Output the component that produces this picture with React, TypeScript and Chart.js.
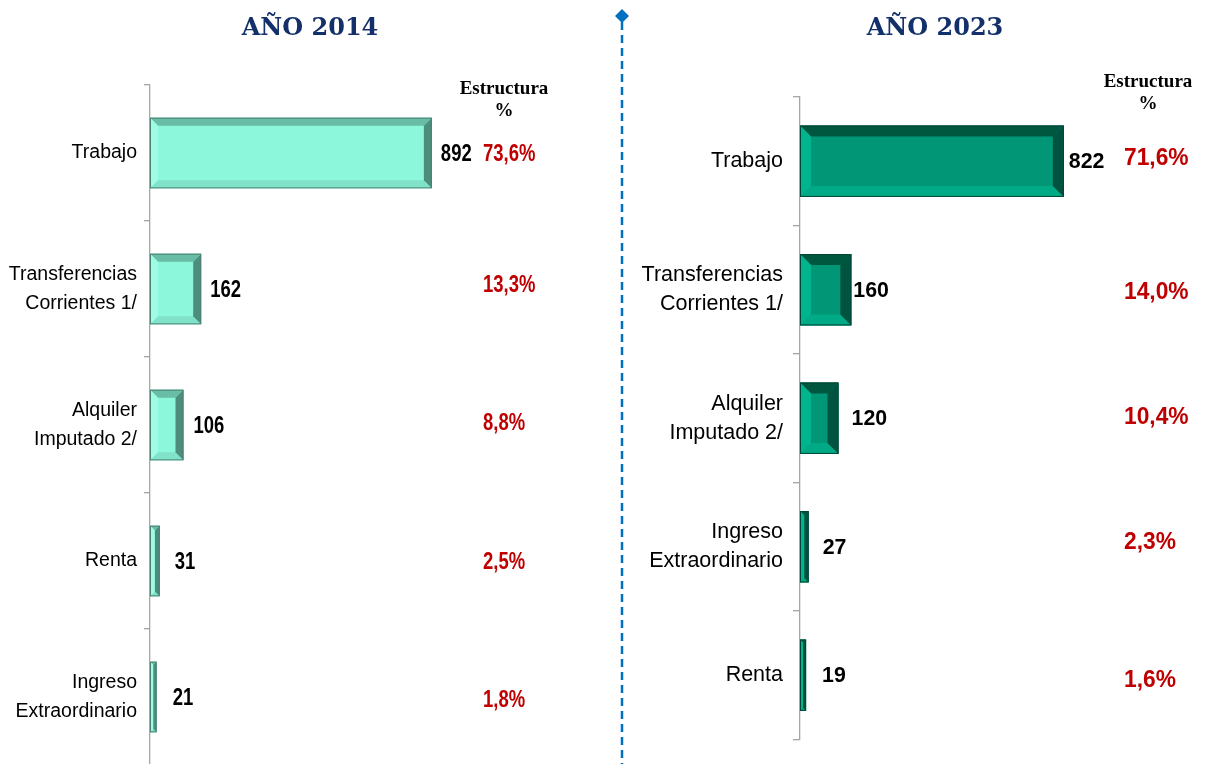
import React, { useEffect, useRef } from "react";
import { Chart, registerables } from "chart.js";

Chart.register(...registerables);

const labels2014: (string | string[])[] = [
  "Trabajo",
  ["Transferencias", "Corrientes 1/"],
  ["Alquiler", "Imputado 2/"],
  "Renta",
  ["Ingreso", "Extraordinario"],
];
const values2014 = [892, 162, 106, 31, 21];
const pct2014 = ["73,6%", "13,3%", "8,8%", "2,5%", "1,8%"];

const labels2023: (string | string[])[] = [
  "Trabajo",
  ["Transferencias", "Corrientes 1/"],
  ["Alquiler", "Imputado 2/"],
  ["Ingreso", "Extraordinario"],
  "Renta",
];
const values2023 = [822, 160, 120, 27, 19];
const pct2023 = ["71,6%", "14,0%", "10,4%", "2,3%", "1,6%"];

const SANS = "'Liberation Sans', Arial, sans-serif";
const SERIF = "'Liberation Serif', 'Times New Roman', serif";
const TITLE_SERIF = "'DejaVu Serif', 'Liberation Serif', serif";

const bevelPlugin = {
  id: "bevel",
  afterDatasetsDraw(chart: any, _args: any, opts: any) {
    const ctx = chart.ctx;
    const meta = chart.getDatasetMeta(0);
    meta.data.forEach((el: any) => {
      const p = el.getProps(["x", "y", "base", "height"], true);
      const l = Math.min(p.base, p.x);
      const r = Math.max(p.base, p.x);
      const t = p.y - p.height / 2;
      const bo = p.y + p.height / 2;
      const b = Math.min(opts.size, (r - l) / 2, p.height / 2);
      const poly = (pts: number[][], color: string) => {
        ctx.beginPath();
        ctx.moveTo(pts[0][0], pts[0][1]);
        for (let k = 1; k < pts.length; k++) ctx.lineTo(pts[k][0], pts[k][1]);
        ctx.closePath();
        ctx.fillStyle = color;
        ctx.fill();
      };
      ctx.save();
      poly([[l, t], [r, t], [r - b, t + b], [l + b, t + b]], opts.top);
      poly([[l, bo], [r, bo], [r - b, bo - b], [l + b, bo - b]], opts.bottom);
      poly([[l, t], [l + b, t + b], [l + b, bo - b], [l, bo]], opts.left);
      poly([[r, t], [r - b, t + b], [r - b, bo - b], [r, bo]], opts.right);
      ctx.strokeStyle = opts.edge;
      ctx.lineWidth = 1;
      ctx.strokeRect(l + 0.5, t + 0.5, r - l - 1, bo - t - 1);
      ctx.restore();
    });
  },
};

const labelPlugin = {
  id: "barLabels",
  afterDatasetsDraw(chart: any, _args: any, opts: any) {
    const ctx = chart.ctx;
    const meta = chart.getDatasetMeta(0);
    const data = chart.data.datasets[0].data;
    const draw = (txt: string, x: number, y: number, font: string, color: string) => {
      ctx.save();
      ctx.translate(x, y);
      ctx.scale(opts.scaleX, 1);
      ctx.font = font;
      ctx.fillStyle = color;
      ctx.textAlign = "left";
      ctx.textBaseline = "middle";
      ctx.fillText(txt, 0, 0);
      ctx.restore();
    };
    meta.data.forEach((el: any, i: number) => {
      const p = el.getProps(["x", "y"], true);
      draw(String(data[i]), p.x + opts.valueOffset[i], p.y + 1, opts.valueFont, "#000000");
      draw(opts.pct[i], opts.pctX, p.y + opts.pctDy[i], opts.pctFont, "#c00000");
    });
  },
};

function BarPanel(props: {
  labels: (string | string[])[];
  values: number[];
  pct: string[];
  left: number;
  width: number;
  height: number;
  axisW: number;
  padTop: number;
  padBottom: number;
  padRight: number;
  barPct: number;
  fill: string;
  bevel: any;
  tickFont: any;
  tickLen: number;
  tickPad: number;
  valueFont: string;
  valueOffset: number[];
  pctFont: string;
  pctX: number;
  pctDy: number[];
  scaleX: number;
}) {
  const ref = useRef<HTMLCanvasElement>(null);
  useEffect(() => {
    if (!ref.current) return;
    const chart = new Chart(ref.current, {
      type: "bar",
      data: {
        labels: props.labels as any,
        datasets: [
          {
            data: props.values,
            backgroundColor: props.fill,
            borderWidth: 0,
            categoryPercentage: 1,
            barPercentage: props.barPct,
          },
        ],
      },
      options: {
        indexAxis: "y",
        animation: false,
        responsive: false,
        maintainAspectRatio: false,
        layout: { padding: { top: props.padTop, bottom: props.padBottom, right: props.padRight, left: 0 } },
        plugins: {
          legend: { display: false },
          tooltip: { enabled: false },
          bevel: props.bevel,
          barLabels: {
            valueFont: props.valueFont,
            valueOffset: props.valueOffset,
            pctFont: props.pctFont,
            pctX: props.pctX,
            pct: props.pct,
            pctDy: props.pctDy,
            scaleX: props.scaleX,
          },
        } as any,
        scales: {
          x: { display: false, min: 0, max: 1000 },
          y: {
            afterFit: (scale: any) => {
              scale.width = props.axisW;
            },
            grid: {
              display: true,
              drawOnChartArea: false,
              drawTicks: true,
              tickLength: props.tickLen,
              color: "#a6a6a6",
              lineWidth: 1.3,
            },
            border: { display: true, color: "#a6a6a6", width: 1.3 },
            ticks: {
              color: "#000000",
              padding: props.tickPad,
              font: props.tickFont,
              autoSkip: false,
            },
          },
        },
      },
      plugins: [bevelPlugin, labelPlugin],
    });
    return () => chart.destroy();
  }, []);
  return (
    <canvas
      ref={ref}
      width={props.width}
      height={props.height}
      style={{ position: "absolute", left: props.left, top: 0, width: props.width, height: props.height }}
    />
  );
}

const titleStyle: React.CSSProperties = {
  position: "absolute",
  transform: "translate(-50%, -50%)",
  fontFamily: TITLE_SERIF,
  fontWeight: "bold",
  color: "#14306b",
  fontSize: 24,
  lineHeight: 1,
  whiteSpace: "nowrap",
};

const headStyle: React.CSSProperties = {
  position: "absolute",
  transform: "translateX(-50%)",
  fontFamily: SERIF,
  fontWeight: "bold",
  color: "#000000",
  fontSize: 19,
  lineHeight: "22px",
  textAlign: "center",
  whiteSpace: "nowrap",
};

export default function App() {
  return (
    <div
      style={{
        position: "absolute",
        left: 0,
        top: 0,
        width: 1206,
        height: 764,
        overflow: "hidden",
        background: "#ffffff",
      }}
    >
      <BarPanel
        labels={labels2014}
        values={values2014}
        pct={pct2014}
        left={0}
        width={620}
        height={790}
        axisW={150}
        padTop={85}
        padBottom={25}
        padRight={154}
        barPct={0.52}
        fill="#8cf7da"
        bevel={{ size: 8, top: "#69bda6", bottom: "#80e2c8", left: "#a0fbe4", right: "#4c8d7c", edge: "#4d7f72" }}
        tickFont={{ family: SANS, size: 19.5, lineHeight: 1.5 }}
        tickLen={6}
        tickPad={7}
        valueFont={`bold 24px ${SANS}`}
        valueOffset={[9, 9, 10, 15, 16]}
        pctFont={`bold 24px ${SANS}`}
        pctX={483}
        pctDy={[1, -4, -2, 1, 3]}
        scaleX={0.77}
      />
      <BarPanel
        labels={labels2023}
        values={values2023}
        pct={pct2023}
        left={630}
        width={576}
        height={764}
        axisW={170}
        padTop={97}
        padBottom={19}
        padRight={85}
        barPct={0.555}
        fill="#009676"
        bevel={{ size: 11, top: "#00573f", bottom: "#00aa86", left: "#00b48e", right: "#00533f", edge: "#004536" }}
        tickFont={{ family: SANS, size: 21.5, lineHeight: 1.35 }}
        tickLen={7}
        tickPad={10}
        valueFont={`bold 22px ${SANS}`}
        valueOffset={[5, 2, 13, 14, 16]}
        pctFont={`bold 23.5px ${SANS}`}
        pctX={1124 - 630}
        pctDy={[-3, 3, -1, -4, 5]}
        scaleX={0.97}
      />
      <div style={{ ...titleStyle, left: 310, top: 27 }}>AÑO 2014</div>
      <div style={{ ...titleStyle, left: 935, top: 27 }}>AÑO 2023</div>
      <div style={{ ...headStyle, left: 504, top: 77 }}>
        Estructura
        <br />%
      </div>
      <div style={{ ...headStyle, left: 1148, top: 70 }}>
        Estructura
        <br />%
      </div>
      <svg width={30} height={764} style={{ position: "absolute", left: 607, top: 0 }}>
        <line x1={15} y1={22} x2={15} y2={764} stroke="#0070c0" strokeWidth={2.5} strokeDasharray="8 5" />
        <polygon points="15,9 22,16 15,23 8,16" fill="#0070c0" />
      </svg>
    </div>
  );
}
